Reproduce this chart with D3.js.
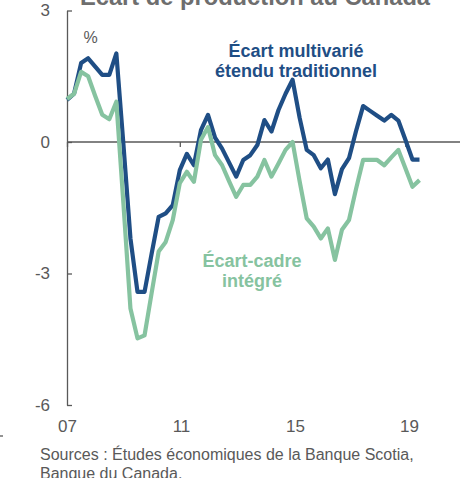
<!DOCTYPE html>
<html>
<head>
<meta charset="utf-8">
<script src="https://cdn.jsdelivr.net/npm/d3@7"></script>
<style>
  body { margin: 0; background: #fff; }
  svg { display: block; font-family: "Liberation Sans", Arial, sans-serif; }
</style>
</head>
<body>
<div id="chart"></div>
<script>
// quarterly, 2007Q1 .. 2019Q3
var startYear = 2007;
var multivar = [0.96, 1.1, 1.8, 1.91, 1.72, 1.53, 1.53, 2.02, -0.05, -2.2,
  -3.42, -3.42, -2.55, -1.71, -1.63, -1.44, -0.64, -0.27, -0.53, 0.27,
  0.62, 0.1, -0.15, -0.47, -0.79, -0.41, -0.3, -0.07, 0.5, 0.24,
  0.73, 1.1, 1.42, 0.55, -0.18, -0.3, -0.6, -0.4, -1.19, -0.62,
  -0.37, 0.25, 0.82, 0.71, 0.6, 0.49, 0.62, 0.49, 0.05, -0.4, -0.4];
var cadre = [0.98, 1.1, 1.6, 1.5, 1.05, 0.62, 0.52, 0.92, -1.4, -3.8,
  -4.48, -4.41, -3.45, -2.5, -2.28, -1.78, -0.94, -0.68, -0.91, 0.05,
  0.34, -0.3, -0.53, -0.9, -1.25, -0.98, -0.98, -0.79, -0.41, -0.79,
  -0.49, -0.18, 0.0, -0.9, -1.74, -1.93, -2.2, -1.97, -2.69, -2.0,
  -1.78, -1.07, -0.41, -0.41, -0.41, -0.53, -0.35, -0.18, -0.6, -1.02, -0.87];
var yTicks = [3, 0, -3, -6];
var xTicks = [2007, 2011, 2015, 2019];

var width = 460, height = 478;
var grey = "#595959";
var blue = "#1f4e85", green = "#86c3a0";

var svg = d3.select("#chart").append("svg")
  .attr("width", width)
  .attr("height", height);

var x = d3.scaleLinear()
  .domain([startYear, startYear + (multivar.length - 1) / 4])
  .range([67, 419.5]);

var y = d3.scaleLinear()
  .domain([-6, 3])
  .range([405, 10.5]);

// title, cut off at the top of the picture
svg.append("text")
  .attr("x", 255).attr("y", 5)
  .attr("text-anchor", "middle")
  .attr("font-size", 23.7)
  .attr("font-weight", "bold")
  .attr("fill", "#6e6e6e")
  .text("Écart de production au Canada");

// y axis
var yAxis = d3.axisRight(y)
  .tickValues(yTicks)
  .tickSize(5)
  .tickSizeOuter(0)
  .tickFormat(function(d) { return String(d); });

var gy = svg.append("g")
  .attr("transform", "translate(" + x(startYear) + ",0)")
  .call(yAxis);
gy.select(".domain").attr("stroke", grey).attr("stroke-width", 1.3);
gy.selectAll(".tick line").attr("stroke", grey).attr("stroke-width", 1.3);
gy.selectAll(".tick text")
  .attr("x", -17)
  .attr("text-anchor", "end")
  .attr("font-size", 17)
  .attr("font-family", "Liberation Sans, Arial, sans-serif")
  .attr("fill", grey);

// x axis on the zero line
var xAxis = d3.axisBottom(x)
  .tickValues(xTicks)
  .tickSize(5)
  .tickSizeOuter(0)
  .tickFormat(function(d) { return d3.format("02d")(d % 100); });

var gx = svg.append("g")
  .attr("transform", "translate(0," + y(0) + ")")
  .call(xAxis);
gx.select(".domain").remove();
gx.append("line")
  .attr("x1", x(startYear)).attr("x2", width)
  .attr("stroke", grey).attr("stroke-width", 1.3);
gx.selectAll(".tick line").attr("stroke", grey).attr("stroke-width", 1.3);
gx.selectAll(".tick text")
  .attr("y", y(-6) - y(0) + 15)
  .attr("dx", function(d, i) { return i * 1.2; })
  .attr("dy", "0.71em")
  .attr("font-size", 17)
  .attr("font-family", "Liberation Sans, Arial, sans-serif")
  .attr("fill", grey);

// lines
var line = d3.line()
  .x(function(d, i) { return x(startYear + i / 4); })
  .y(function(d) { return y(d); });

svg.append("path")
  .datum(multivar)
  .attr("d", line)
  .attr("fill", "none")
  .attr("stroke", blue)
  .attr("stroke-width", 4.2)
  .attr("stroke-linejoin", "round");

svg.append("path")
  .datum(cadre)
  .attr("d", line)
  .attr("fill", "none")
  .attr("stroke", green)
  .attr("stroke-width", 4.2)
  .attr("stroke-linejoin", "round");

// labels
svg.append("text")
  .attr("x", 90.5).attr("y", 43.3)
  .attr("text-anchor", "middle")
  .attr("font-size", 16)
  .attr("fill", grey)
  .text("%");

var blueLabel = svg.append("text")
  .attr("text-anchor", "middle")
  .attr("font-size", 18)
  .attr("font-weight", "bold")
  .attr("fill", blue);
blueLabel.append("tspan").attr("x", 296).attr("y", 56.7).text("Écart multivarié");
blueLabel.append("tspan").attr("x", 296).attr("y", 77.3).text("étendu traditionnel");

var greenLabel = svg.append("text")
  .attr("text-anchor", "middle")
  .attr("font-size", 18)
  .attr("font-weight", "bold")
  .attr("fill", green);
greenLabel.append("tspan").attr("x", 252).attr("y", 267.3).text("Écart-cadre");
greenLabel.append("tspan").attr("x", 252).attr("y", 287.3).text("intégré");

// source
var src = svg.append("text")
  .attr("font-size", 16)
  .attr("fill", grey);
src.append("tspan").attr("x", 40).attr("y", 460).text("Sources : Études économiques de la Banque Scotia,");
src.append("tspan").attr("x", 40).attr("y", 478.5).text("Banque du Canada.");

// stray mark at the left edge
svg.append("line")
  .attr("x1", 0).attr("x2", 3)
  .attr("y1", 436).attr("y2", 436)
  .attr("stroke", grey).attr("stroke-width", 1.3);
</script>
</body>
</html>
